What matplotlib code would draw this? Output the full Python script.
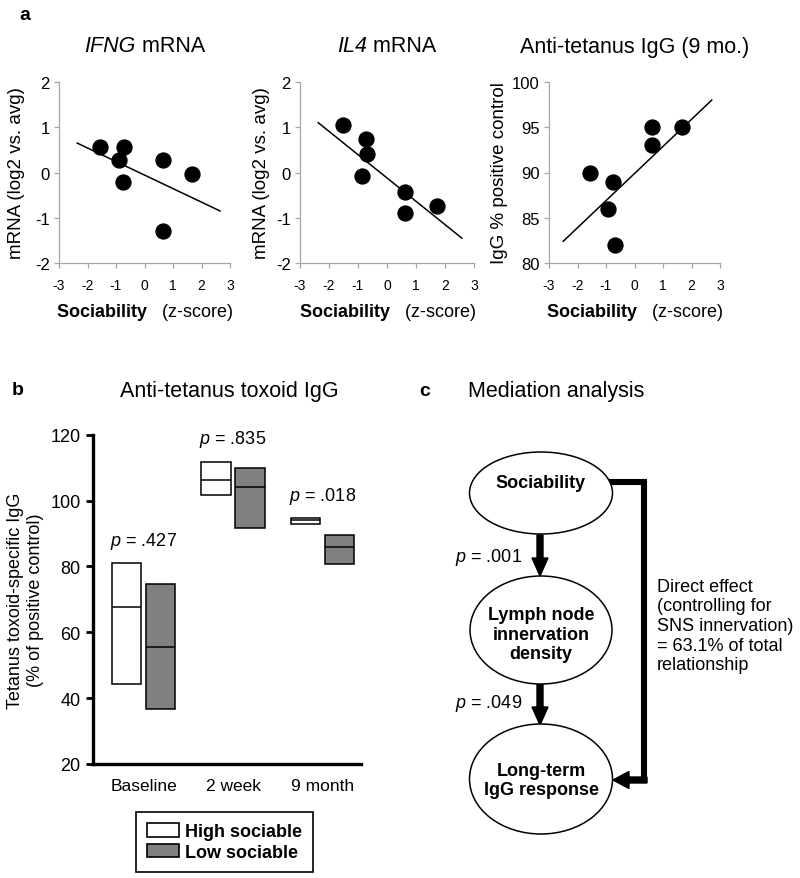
import matplotlib
matplotlib.use('Agg')
import matplotlib.pyplot as plt
from matplotlib.patches import Ellipse, Patch, FancyArrow

plt.rcParams['font.family'] = ['Liberation Sans', 'DejaVu Sans']
plt.rcParams['mathtext.fontset'] = 'custom'
plt.rcParams['mathtext.rm'] = 'Liberation Sans'
plt.rcParams['mathtext.it'] = 'Liberation Sans:italic'
plt.rcParams['mathtext.bf'] = 'Liberation Sans:bold'
plt.rcParams['axes.unicode_minus'] = False

# ---- panel a data (sociability z-score vs outcome) ----
ifng_x = [-1.56, -0.89, -0.71, -0.74, 0.64, 0.64, 1.68]
ifng_y = [0.56, 0.28, 0.56, -0.22, 0.28, -1.30, -0.03]
ifng_fit_x = [-2.36, 2.65]
ifng_fit_y = [0.65, -0.85]

il4_x = [-1.51, -0.72, -0.68, -0.86, 0.63, 0.63, 1.72]
il4_y = [1.04, 0.75, 0.40, -0.08, -0.43, -0.89, -0.73]
il4_fit_x = [-2.37, 2.58]
il4_fit_y = [1.10, -1.45]

igg_x = [-1.56, -0.76, -0.92, -0.70, 0.62, 0.62, 1.68]
igg_y = [90.0, 89.0, 86.0, 82.0, 95.0, 93.0, 95.0]
igg_fit_x = [-2.50, 2.71]
igg_fit_y = [82.4, 98.0]

# ---- panel b data ----
timepoints = ['Baseline', '2 week', '9 month']
high_top = [81.0, 111.7, 94.6]
high_mid = [67.7, 106.1, 94.0]
high_bot = [44.4, 101.6, 92.8]
low_top = [74.6, 109.9, 89.4]
low_mid = [55.6, 104.0, 86.0]
low_bot = [36.8, 91.6, 80.7]
p_vals = ['.427', '.835', '.018']

# ---- panel c ----
path_p = ['.001', '.049']
direct_pct = 63.1

W, H = 800, 879
fig = plt.figure(figsize=(8, 8.79), dpi=100)
renderer = fig.canvas.get_renderer()


def box(x0, y0, x1, y1):
    return [x0 / W, 1 - y1 / H, (x1 - x0) / W, (y1 - y0) / H]


def ftext(x, y, s, **kw):
    return fig.text(x / W, 1 - y / H, s, **kw)


def mixed_title(xc, y, parts, size):
    # parts: list of (text, style); drawn side by side, centred on xc
    texts = [ftext(0, y, s, fontsize=size, fontstyle=st, va='center') for s, st in parts]
    widths = [t.get_window_extent(renderer).width for t in texts]
    x = xc - sum(widths) / 2
    for t, w in zip(texts, widths):
        t.set_x(x / W)
        x += w


GRAY = '#a6a6a6'

# panel a
panels = [
    (ifng_x, ifng_y, ifng_fit_x, ifng_fit_y, (-2, 2), range(-2, 3),
     [('IFNG', 'italic'), (' mRNA', 'normal')], 'mRNA (log2 vs. avg)', (59, 230), -0.20),
    (il4_x, il4_y, il4_fit_x, il4_fit_y, (-2, 2), range(-2, 3),
     [('IL4', 'italic'), (' mRNA', 'normal')], 'mRNA (log2 vs. avg)', (300, 474), -0.17),
    (igg_x, igg_y, igg_fit_x, igg_fit_y, (80, 100), range(80, 101, 5),
     [('Anti-tetanus IgG (9 mo.)', 'normal')], 'IgG % positive control', (549, 720), -0.24),
]
for x, y, fx, fy, ylim, yt, title, ylab, (x0, x1), lx in panels:
    ax = fig.add_axes(box(x0, 83, x1, 264))
    ax.scatter(x, y, s=115, color='k', zorder=3, clip_on=False)
    ax.plot(fx, fy, color='k', lw=1.1)
    ax.set_xlim(-3, 3)
    ax.set_ylim(*ylim)
    ax.set_xticks(range(-3, 4))
    ax.set_yticks(list(yt))
    for s in ['top', 'right']:
        ax.spines[s].set_visible(False)
    for s in ['left', 'bottom']:
        ax.spines[s].set_color(GRAY)
        ax.spines[s].set_linewidth(0.9)
    ax.tick_params(direction='out', length=3.5, color=GRAY, width=0.9)
    ax.tick_params(axis='y', labelsize=12, pad=3)
    ax.tick_params(axis='x', labelsize=10, pad=7)
    ax.set_xlabel(r'$\mathbf{Sociability}$   (z-score)', fontsize=13, labelpad=7)
    ax.set_ylabel(ylab, fontsize=13.5)
    ax.yaxis.set_label_coords(lx, 0.5)
    mixed_title((x0 + x1) / 2, 47, title, 15.5)

ftext(25, 15, 'a', fontsize=14, fontweight='bold', ha='center', va='center')

# panel b
axb = fig.add_axes(box(93, 435.7, 361, 765))
for i in range(len(timepoints)):
    axb.bar(i - 0.355, high_top[i] - high_bot[i], bottom=high_bot[i], width=0.33,
            align='edge', facecolor='white', edgecolor='k', lw=1.1)
    axb.bar(i + 0.025, low_top[i] - low_bot[i], bottom=low_bot[i], width=0.33,
            align='edge', facecolor='#808080', edgecolor='k', lw=1.1)
    axb.hlines(high_mid[i], i - 0.355, i - 0.025, color='k', lw=1.1)
    axb.hlines(low_mid[i], i + 0.025, i + 0.355, color='k', lw=1.1)
    axb.text(i, max(high_top[i], low_top[i]) + 7, r'$\mathit{p}$ = ' + p_vals[i],
             fontsize=13, ha='center', va='center')
axb.set_xlim(-0.565, 2.43)
axb.set_ylim(20, 120)
axb.set_yticks(range(20, 121, 20))
axb.set_xticks(range(len(timepoints)))
axb.set_xticklabels(timepoints)
for s in ['top', 'right']:
    axb.spines[s].set_visible(False)
for s in ['left', 'bottom']:
    axb.spines[s].set_linewidth(2.4)
axb.tick_params(axis='y', direction='out', length=5, width=2, labelsize=13, pad=4)
axb.tick_params(axis='x', length=0, labelsize=12.5, pad=10)
axb.set_ylabel('Tetanus toxoid-specific IgG\n(% of positive control)', fontsize=13)
axb.yaxis.set_label_coords(-0.183, 0.5)
leg = axb.legend(handles=[Patch(facecolor='white', edgecolor='k', lw=1.2, label='High sociable'),
                          Patch(facecolor='#808080', edgecolor='k', lw=1.2, label='Low sociable')],
                 loc='center', bbox_to_anchor=(224.5 / W, 1 - 843 / H),
                 bbox_transform=fig.transFigure, prop={'weight': 'bold', 'size': 13},
                 fancybox=False, edgecolor='k', framealpha=1, handlelength=1.75,
                 handleheight=0.75, handletextpad=0.35, labelspacing=0.2,
                 borderpad=0.6, borderaxespad=0)
leg.get_frame().set_linewidth(1.2)

ftext(18, 391, 'b', fontsize=14, fontweight='bold', ha='center', va='center')
ftext(229, 392, 'Anti-tetanus toxoid IgG', fontsize=15.5, ha='center', va='center')

# panel c: mediation diagram drawn in pixel units
axc = fig.add_axes(box(400, 420, 800, 879))
axc.set_xlim(400, 800)
axc.set_ylim(879, 420)
axc.axis('off')

nodes = [((541, 494), 143, 82, 'Sociability', 483),
         ((541, 631), 142, 108, 'Lymph node\ninnervation\ndensity', 635),
         ((541, 780), 143, 110, 'Long-term\nIgG response', 781)]
for c, w, h, lab, ty in nodes:
    axc.add_patch(Ellipse(c, w, h, facecolor='white', edgecolor='k', lw=1.1, zorder=3))
    axc.text(c[0], ty, lab, fontsize=13, fontweight='bold', ha='center', va='center',
             zorder=4, linespacing=1.2)

axc.add_patch(FancyArrow(540, 536, 0, 41, width=6, head_width=16, head_length=18,
                         length_includes_head=True, color='k', zorder=2))
axc.add_patch(FancyArrow(540, 685, 0, 41, width=6, head_width=16, head_length=18,
                         length_includes_head=True, color='k', zorder=2))
axc.plot([605, 644, 644], [483, 483, 784], color='k', lw=4.4,
         solid_joinstyle='miter', solid_capstyle='butt', zorder=2)
axc.add_patch(FancyArrow(647, 781, -34, 0, width=6, head_width=17, head_length=16,
                         length_includes_head=True, color='k', zorder=2))

axc.text(522, 558, r'$\mathit{p}$ = ' + path_p[0], fontsize=13, ha='right', va='center')
axc.text(522, 703, r'$\mathit{p}$ = ' + path_p[1], fontsize=13, ha='right', va='center')
axc.text(657, 626.5, 'Direct effect\n(controlling for\nSNS innervation)\n= %.1f%% of total\nrelationship'
         % direct_pct, fontsize=13, ha='left', va='center', linespacing=1.2)

ftext(425, 392, 'c', fontsize=14, fontweight='bold', ha='center', va='center')
ftext(468, 392, 'Mediation analysis', fontsize=15.5, ha='left', va='center')

fig.savefig('out.png', dpi=100)
